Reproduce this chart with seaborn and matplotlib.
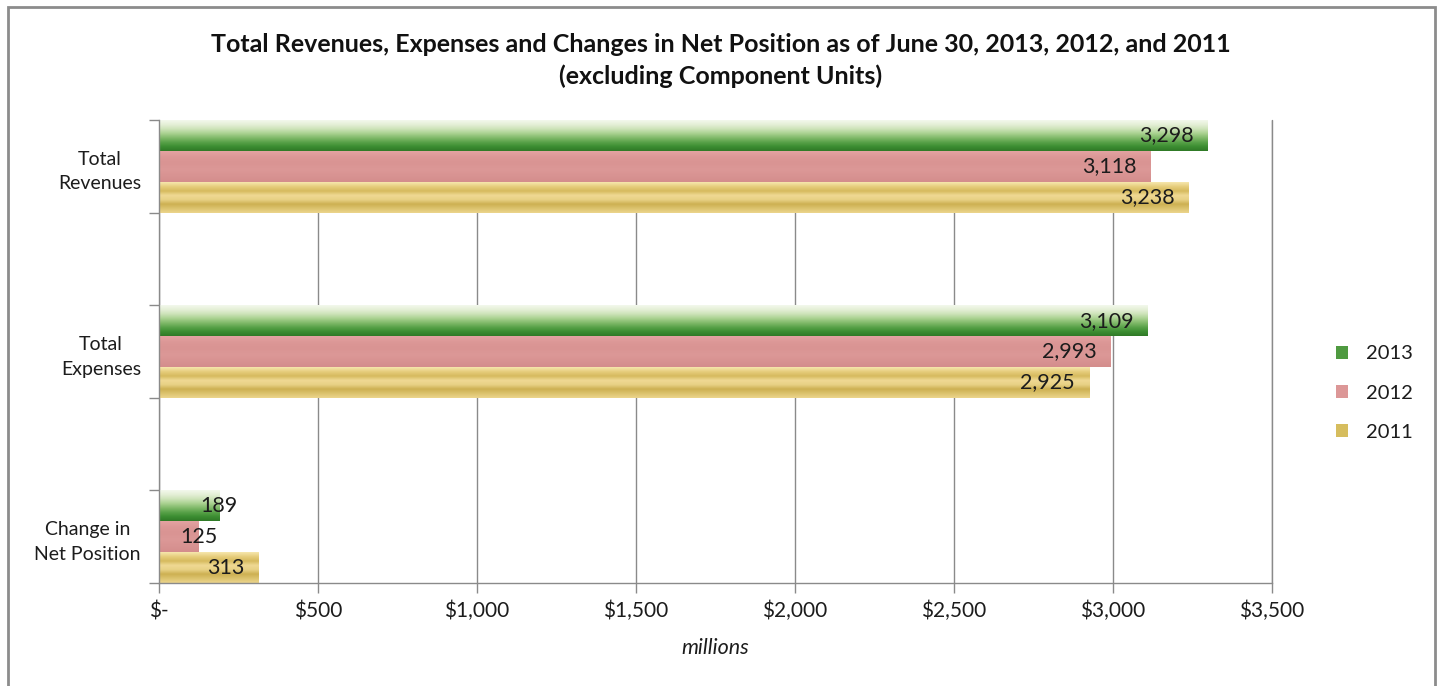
import numpy as np
import pandas as pd
import matplotlib
matplotlib.use("Agg")
import matplotlib.pyplot as plt
from matplotlib.patches import Patch, Rectangle
from matplotlib.colors import to_rgb
import seaborn as sns

# ---- data (millions of dollars) ----
categories = ["Total\nRevenues", "Total\nExpenses", "Change in\nNet Position"]
years = ["2013", "2012", "2011"]
values_2013 = [3298, 3109, 189]
values_2012 = [3118, 2993, 125]
values_2011 = [3238, 2925, 313]
x_ticks = [0, 500, 1000, 1500, 2000, 2500, 3000, 3500]
x_tick_labels = ["$-", "$500", "$1,000", "$1,500", "$2,000", "$2,500", "$3,000", "$3,500"]

# blank spacer slots between the groups
slot_order = [categories[0], " ", categories[1], "  ", categories[2]]

df = pd.DataFrame({
    "category": categories * 3,
    "year": [y for y in years for _ in categories],
    "value": values_2013 + values_2012 + values_2011,
})

# vertical colour profiles (top -> bottom) for each series
gradients = {
    "2013": ["#f3f8ec", "#e4efd6", "#cde3b9", "#aad291", "#82ba6b", "#5aa34a", "#3d8e32", "#2f7a27"],
    "2012": ["#e3a3a2", "#dc9796", "#d99493", "#dc9897", "#d89392", "#d48d8c"],
    "2011": ["#f6e6ac", "#e6cd7c", "#d6ba5e", "#efd993", "#e8d185", "#cdb052", "#dcc36e", "#ecd58c"],
}
legend_colors = {"2013": "#4f9a40", "2012": "#dc9797", "2011": "#d6bd5e"}

sns.set_theme(style="white")
plt.rcParams["font.family"] = ["Lato", "DejaVu Sans"]

fig = plt.figure(figsize=(14.42, 6.86), dpi=100)
ax = fig.add_axes([0.1103, 0.1501, 0.7718, 0.6750])

sns.barplot(data=df, y="category", x="value", hue="year", order=slot_order,
            hue_order=years, orient="h", width=1.0, dodge=True,
            palette=legend_colors, ax=ax, legend=False, errorbar=None,
            saturation=1.0, linewidth=0)

ax.set_xlim(0, 3500)
ax.set_ylim(4.5, -0.5)

text_col = "#1c1c1c"

# gradient fills clipped to each bar
bars = [p for p in ax.patches if p.get_width() > 0]
for p in bars:
    x0, y0, w, h = p.get_x(), p.get_y(), p.get_width(), p.get_height()
    fc = p.get_facecolor()
    year = min(legend_colors, key=lambda k: np.sum((np.array(to_rgb(legend_colors[k])) - np.array(fc[:3])) ** 2))
    cols = np.array([to_rgb(c) for c in gradients[year]])
    n = 64
    t = np.linspace(0, 1, n)
    src = np.linspace(0, 1, len(cols))
    grad = np.stack([np.interp(t, src, cols[:, i]) for i in range(3)], axis=-1)
    img = np.repeat(grad[:, None, :], 2, axis=1)
    im = ax.imshow(img, extent=(x0, x0 + w, y0 + h, y0), origin="upper",
                   aspect="auto", zorder=2, interpolation="bilinear")
    im.set_clip_path(p)
    p.set_facecolor("none")

    # value label
    v = x0 + w
    txt = f"{v:,.0f}"
    if v < 250:
        ax.text(v, y0 + h / 2, txt, ha="center", va="center", fontsize=15.5,
                color=text_col, zorder=4)
    else:
        ax.text(v - 45, y0 + h / 2, txt, ha="right", va="center", fontsize=15.5,
                color=text_col, zorder=4)

ax.set_xlim(0, 3500)
ax.set_ylim(4.5, -0.5)

# axes styling
grid_col = "#8a8a8a"
ax.set_xticks(x_ticks)
ax.set_xticklabels(x_tick_labels, fontsize=15, color=text_col)
ax.xaxis.grid(True, color=grid_col, linewidth=1.0, zorder=0)
ax.axvline(3500, color=grid_col, linewidth=1.0, clip_on=False, zorder=0)
ax.set_axisbelow(True)
ax.set_yticks(np.arange(-0.5, 5.0, 1.0))
ax.set_yticklabels([])
ax.set_yticks([0, 2, 4], minor=True)
ax.set_yticklabels(categories, minor=True, fontsize=14, color=text_col,
                   multialignment="center", linespacing=1.55)
ax.tick_params(axis="y", which="minor", length=0, pad=13)
ax.tick_params(axis="y", which="major", length=7, width=1, color=grid_col, left=True)
ax.tick_params(axis="x", which="major", length=7, width=1, color=grid_col,
               bottom=True, pad=6)
for s in ["top", "right"]:
    ax.spines[s].set_visible(False)
for s in ["left", "bottom"]:
    ax.spines[s].set_color(grid_col)
    ax.spines[s].set_linewidth(1.0)
ax.set_ylabel("")
ax.set_xlabel("millions", fontsize=15.5, fontstyle="italic", color=text_col, labelpad=12)

# title
fig.text(0.5, 0.935, "Total Revenues, Expenses and Changes in Net Position as of June 30, 2013, 2012, and 2011",
         ha="center", va="center", fontsize=18, fontweight="bold", color="#111111")
fig.text(0.5, 0.889, "(excluding Component Units)",
         ha="center", va="center", fontsize=18, fontweight="bold", color="#111111")

# legend
handles = [Patch(facecolor=legend_colors[y], edgecolor="none", label=y) for y in years]
fig.legend(handles=handles, loc="center left", bbox_to_anchor=(0.914, 0.427),
           frameon=False, fontsize=14.5, handlelength=0.6, handleheight=0.6,
           handletextpad=0.9, labelspacing=1.1, labelcolor=text_col)

# outer chart border
fig.patches.append(Rectangle((8 / 1442, -0.02), (1435 - 8) / 1442, 1.02 - 7 / 686,
                             transform=fig.transFigure, fill=False,
                             edgecolor="#8c8c8c", linewidth=2, zorder=10))

fig.savefig("out.png", dpi=100, facecolor="white")
